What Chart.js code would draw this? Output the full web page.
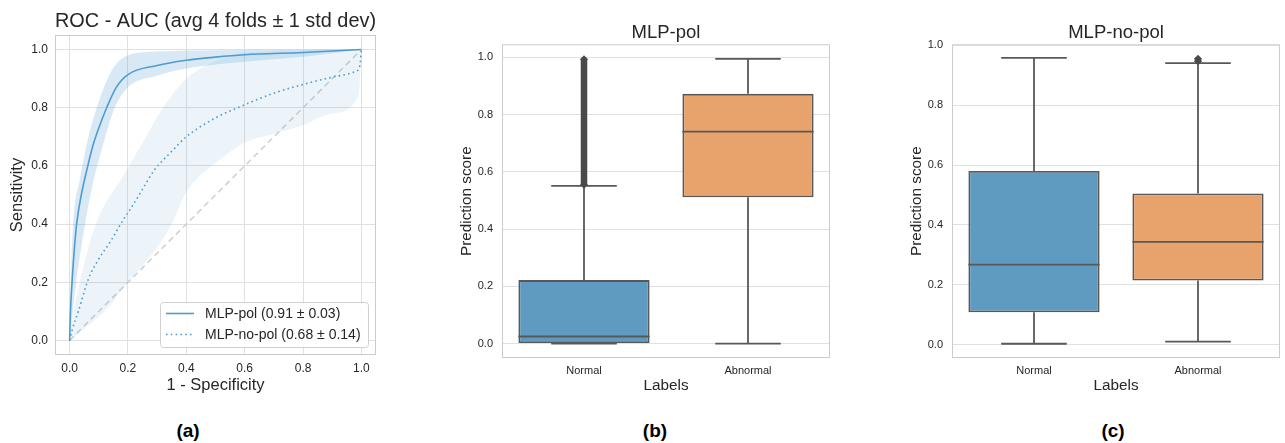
<!DOCTYPE html>
<html>
<head>
<meta charset="utf-8">
<title>ROC and prediction score boxplots</title>
<script src="https://cdn.jsdelivr.net/npm/chart.js@4.4.1/dist/chart.umd.min.js"></script>
<style>
  body { margin: 0; background: #fff; width: 1285px; height: 443px; position: relative; overflow: hidden;
         font-family: "Liberation Sans", Arial, sans-serif; }
  canvas { position: absolute; top: 0; }
  .panel { position: absolute; top: 420px; font-weight: bold; font-size: 19px; color: #000;
           transform: translateX(-50%); }
</style>
</head>
<body>
<canvas id="rocChart" width="390" height="400" style="left:0px"></canvas>
<canvas id="polChart" width="400" height="400" style="left:440px"></canvas>
<canvas id="noPolChart" width="395" height="400" style="left:890px"></canvas>
<div class="panel" style="left:188px">(a)</div>
<div class="panel" style="left:655px">(b)</div>
<div class="panel" style="left:1113px">(c)</div>

<script>
// ---- data: ROC (a) ----
var unitTicks = [0, 0.2, 0.4, 0.6, 0.8, 1.0];

var polFpr = [0, 0.003, 0.009, 0.016, 0.024, 0.04, 0.06, 0.08, 0.1, 0.127, 0.16, 0.2, 0.3, 0.4, 0.5, 0.6, 0.8, 1.0];
var polTpr = [0, 0.10, 0.21, 0.31, 0.40, 0.50, 0.59, 0.67, 0.73, 0.80, 0.87, 0.914, 0.945, 0.963, 0.974, 0.982, 0.99, 1.0];

var polUpFpr = [0, 0.004, 0.012, 0.035, 0.06, 0.093, 0.13, 0.16, 0.2, 0.3, 0.5, 1.0];
var polUpTpr = [0, 0.20, 0.40, 0.553, 0.68, 0.80, 0.90, 0.95, 0.98, 0.993, 0.998, 1.0];
var polLoFpr = [0, 0.02, 0.053, 0.08, 0.1, 0.125, 0.155, 0.2, 0.3, 0.4, 0.6, 0.8, 1.0];
var polLoTpr = [0, 0.18, 0.40, 0.54, 0.62, 0.71, 0.80, 0.87, 0.91, 0.935, 0.958, 0.975, 1.0];

var noPolFpr = [0, 0.01, 0.03, 0.064, 0.1, 0.14, 0.178, 0.22, 0.25, 0.29, 0.35, 0.4, 0.5, 0.6, 0.7, 0.8, 0.9, 0.98, 0.995, 1.0];
var noPolTpr = [0, 0.04, 0.10, 0.21, 0.28, 0.34, 0.405, 0.47, 0.52, 0.585, 0.65, 0.70, 0.765, 0.81, 0.85, 0.88, 0.905, 0.925, 0.945, 1.0];

var noPolUpFpr = [0, 0.01, 0.035, 0.09, 0.19, 0.25, 0.32, 0.4, 0.5, 0.6, 1.0];
var noPolUpTpr = [0, 0.08, 0.20, 0.40, 0.576, 0.68, 0.80, 0.90, 0.96, 0.99, 1.0];
var noPolLoFpr = [0, 0.05, 0.12, 0.2, 0.3, 0.35, 0.4, 0.5, 0.6, 0.7, 0.8, 0.9, 0.99, 1.0];
var noPolLoTpr = [0, 0.04, 0.10, 0.20, 0.32, 0.40, 0.51, 0.61, 0.68, 0.71, 0.74, 0.78, 0.84, 1.0];

var chanceLine = [0, 1];

// ---- data: boxplots (b) and (c) ----
var boxLabels = ['Normal', 'Abnormal'];

var polLo  = [0.0, 0.0];
var polQ1  = [0.002, 0.511];
var polMed = [0.025, 0.740];
var polQ3  = [0.222, 0.872];
var polHi  = [0.551, 0.994];
var polOut = [[0.555, 0.993], []];

var noPolLo  = [0.004, 0.011];
var noPolQ1  = [0.109, 0.215];
var noPolMed = [0.268, 0.344];
var noPolQ3  = [0.580, 0.505];
var noPolHi  = [0.957, 0.940];
var noPolOut = [[], [0.946, 0.954]];

// ---- styles ----
var FONT = '"Liberation Sans", Arial, sans-serif';
var textCol = '#262626';
var gridCol = '#e0e0e0';
var frameCol = '#cccccc';
var rocBlue = '#4f9bd1';
var boxColors = ['#5f9bc1', '#e8a36c'];
var lineGray = '#585858';

function pts(xs, ys) {
    return xs.map(function(x, i) { return {x: x, y: ys[i]}; });
}

// light frame around the plot area (seaborn whitegrid)
var framePlugin = {
    id: 'frame',
    afterDraw: function(chart) {
        var a = chart.chartArea, ctx = chart.ctx;
        ctx.save();
        ctx.strokeStyle = frameCol;
        ctx.lineWidth = 1;
        ctx.strokeRect(a.left + 0.5, a.top + 0.5, a.right - a.left - 1, a.bottom - a.top - 1);
        ctx.restore();
    }
};

// legend inside the ROC plot, bottom right
var rocLegend = {
    id: 'rocLegend',
    afterDraw: function(chart) {
        var ctx = chart.ctx, a = chart.chartArea;
        var w = 208, h = 45;
        var x = a.right - w - 8, y = a.bottom - h - 8;
        ctx.save();
        ctx.fillStyle = 'rgba(255,255,255,0.85)';
        ctx.strokeStyle = '#d0d0d0';
        ctx.lineWidth = 1;
        ctx.beginPath();
        ctx.roundRect(x + 0.5, y + 0.5, w, h, 3);
        ctx.fill();
        ctx.stroke();
        [0, 1].forEach(function(i) {
            var ds = chart.data.datasets[i];
            var ly = y + 11.5 + i * 21;
            ctx.strokeStyle = ds.borderColor;
            ctx.lineWidth = ds.borderWidth;
            ctx.setLineDash(ds.borderDash || []);
            ctx.beginPath();
            ctx.moveTo(x + 6, ly);
            ctx.lineTo(x + 34, ly);
            ctx.stroke();
            ctx.setLineDash([]);
            ctx.fillStyle = textCol;
            ctx.font = '14px ' + FONT;
            ctx.textBaseline = 'middle';
            ctx.fillText(ds.label, x + 45, ly + 1);
        });
        ctx.restore();
    }
};

function fixedTicks(list) {
    return function(scale) { scale.ticks = list.map(function(v) { return {value: v}; }); };
}

// ---- (a) ROC ----
new Chart('rocChart', {
    type: 'line',
    data: {
        datasets: [
            { label: 'MLP-pol (0.91 \u00b1 0.03)', data: pts(polFpr, polTpr),
              borderColor: rocBlue, borderWidth: 1.6, pointRadius: 0, fill: false,
              cubicInterpolationMode: 'monotone' },
            { label: 'MLP-no-pol (0.68 \u00b1 0.14)', data: pts(noPolFpr, noPolTpr),
              borderColor: rocBlue, borderWidth: 1.6, borderDash: [1.6, 3.2], pointRadius: 0, fill: false,
              cubicInterpolationMode: 'monotone' },
            { label: 'pol upper', data: pts(polUpFpr, polUpTpr), borderWidth: 0, pointRadius: 0,
              backgroundColor: 'rgba(79,155,209,0.22)', fill: '+1', cubicInterpolationMode: 'monotone' },
            { label: 'pol lower', data: pts(polLoFpr, polLoTpr), borderWidth: 0, pointRadius: 0,
              fill: false, cubicInterpolationMode: 'monotone' },
            { label: 'no-pol upper', data: pts(noPolUpFpr, noPolUpTpr), borderWidth: 0, pointRadius: 0,
              backgroundColor: 'rgba(79,155,209,0.11)', fill: '+1', cubicInterpolationMode: 'monotone' },
            { label: 'no-pol lower', data: pts(noPolLoFpr, noPolLoTpr), borderWidth: 0, pointRadius: 0,
              fill: false, cubicInterpolationMode: 'monotone' },
            { label: 'chance', data: pts(chanceLine, chanceLine), borderColor: '#cfcfcf',
              borderWidth: 1.5, borderDash: [6, 4], pointRadius: 0, fill: false }
        ]
    },
    options: {
        responsive: false,
        animation: false,
        layout: { padding: { right: 14 } },
        plugins: {
            legend: { display: false },
            tooltip: { enabled: false },
            title: { display: true, fullSize: false, text: 'ROC - AUC (avg 4 folds \u00b1 1 std dev)',
                     color: textCol, font: { family: FONT, size: 20, weight: 'normal' },
                     padding: { top: 9, bottom: 2 } }
        },
        scales: {
            x: { type: 'linear', min: -0.05, max: 1.05,
                 afterFit: function(s) { s.height = 45; },
                 afterBuildTicks: fixedTicks(unitTicks),
                 grid: { color: gridCol, drawTicks: false },
                 border: { display: false },
                 ticks: { color: textCol, padding: 6, font: { family: FONT, size: 12 },
                          callback: function(v) { return v.toFixed(1); } },
                 title: { display: true, text: '1 - Specificity', color: textCol,
                          font: { family: FONT, size: 16.5 }, padding: { bottom: 5 } } },
            y: { type: 'linear', min: -0.05, max: 1.05,
                 afterFit: function(s) { s.width = 55; },
                 afterBuildTicks: fixedTicks(unitTicks),
                 grid: { color: gridCol, drawTicks: false },
                 border: { display: false },
                 ticks: { color: textCol, padding: 7, font: { family: FONT, size: 12 },
                          callback: function(v) { return v.toFixed(1); } },
                 title: { display: true, text: 'Sensitivity', color: textCol,
                          font: { family: FONT, size: 16.5 }, padding: { top: 8 } } }
        }
    },
    plugins: [framePlugin, rocLegend]
});

// ---- (b), (c) boxplots ----
var boxHalf = 0.4, capHalf = 0.2;

function segment(x0, y0, x1, y1) {
    return { type: 'line', xAxisID: 'xl', data: [{x: x0, y: y0}, {x: x1, y: y1}],
             borderColor: lineGray, borderWidth: 1.8, pointRadius: 0, fill: false, order: 1 };
}

function boxDatasets(lo, q1, med, q3, hi, out) {
    var sets = [{
        type: 'bar', xAxisID: 'x', label: 'box', grouped: false,
        data: q1.map(function(v, i) { return [v, q3[i]]; }),
        backgroundColor: boxColors, borderColor: lineGray, borderWidth: 1.8, borderSkipped: false,
        barPercentage: 0.8, categoryPercentage: 1.0, order: 2
    }];
    q1.forEach(function(v, i) {
        sets.push(segment(i, q3[i], i, hi[i]));
        sets.push(segment(i, q1[i], i, lo[i]));
        sets.push(segment(i - capHalf, hi[i], i + capHalf, hi[i]));
        sets.push(segment(i - capHalf, lo[i], i + capHalf, lo[i]));
        sets.push(segment(i - boxHalf, med[i], i + boxHalf, med[i]));
        if (out[i].length) {
            sets.push({ type: 'line', xAxisID: 'xl',
                        data: out[i].map(function(o) { return {x: i, y: o}; }),
                        borderColor: '#4a4a4a', borderWidth: 6.5, pointStyle: 'rectRot',
                        pointRadius: 4, pointBackgroundColor: '#4a4a4a', pointBorderWidth: 0,
                        fill: false, order: 0 });
        }
    });
    return sets;
}

function boxChart(id, title, yMin, yMax, right, sets) {
    return new Chart(id, {
        type: 'bar',
        data: { labels: boxLabels, datasets: sets },
        options: {
            responsive: false,
            animation: false,
            layout: { padding: { right: right } },
            plugins: {
                legend: { display: false },
                tooltip: { enabled: false },
                title: { display: true, fullSize: false, text: title, color: textCol,
                         font: { family: FONT, size: 18.5, weight: 'normal' },
                         padding: { top: 21.5, bottom: 0.6 } }
            },
            scales: {
                x: { type: 'category', offset: true,
                     afterFit: function(s) { s.height = 42; },
                     grid: { display: false, drawTicks: false },
                     border: { display: false },
                     ticks: { color: textCol, padding: 6, font: { family: FONT, size: 11 } },
                     title: { display: true, text: 'Labels', color: textCol,
                              font: { family: FONT, size: 15.3 }, padding: { bottom: 4.8 } } },
                xl: { type: 'linear', axis: 'x', display: false, offset: false,
                      grid: { offset: false }, min: -0.5, max: 1.5 },
                y: { type: 'linear', min: yMin, max: yMax,
                     afterFit: function(s) { s.width = 62; },
                     afterBuildTicks: fixedTicks(unitTicks),
                     grid: { color: gridCol, drawTicks: false },
                     border: { display: false },
                     ticks: { color: textCol, padding: 9, font: { family: FONT, size: 11 },
                              callback: function(v) { return v.toFixed(1); } },
                     title: { display: true, text: 'Prediction score', color: textCol,
                              font: { family: FONT, size: 15.3 }, padding: { top: 17.5 } } }
            }
        },
        plugins: [framePlugin]
    });
}

boxChart('polChart', 'MLP-pol', -0.05, 1.045, 10,
         boxDatasets(polLo, polQ1, polMed, polQ3, polHi, polOut));
boxChart('noPolChart', 'MLP-no-pol', -0.0436, 1.0026, 5,
         boxDatasets(noPolLo, noPolQ1, noPolMed, noPolQ3, noPolHi, noPolOut));
</script>
</body>
</html>
